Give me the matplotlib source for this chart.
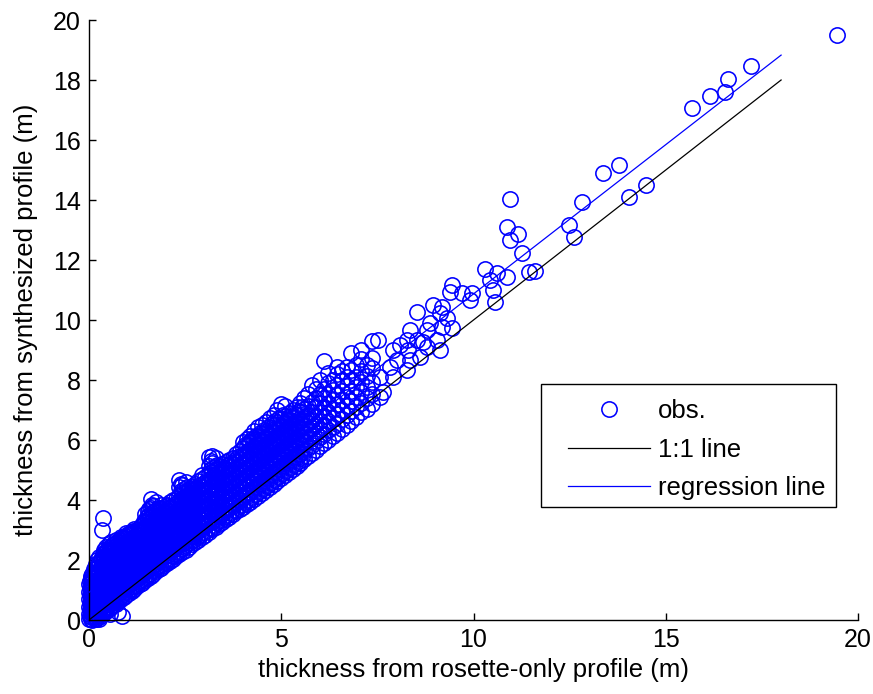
import matplotlib
matplotlib.use('Agg')
from matplotlib import pyplot as plt
from matplotlib.patches import Rectangle

plt.rcParams['font.family'] = ['Liberation Sans', 'DejaVu Sans']

# dense band of observations: (rosette-only thickness, [synthesized thicknesses])
band_cols = [
    (0.00, [0.02, 0.2, 0.45, 0.7, 0.95, 1.2]),
    (0.04, [0.1, 0.35, 0.6, 0.85, 1.1, 1.4]),
    (0.08, [0.0, 0.25, 0.5, 0.78, 1.02, 1.3, 1.55]),
    (0.12, [0.12, 0.38, 0.65, 0.9, 1.18, 1.45, 1.7]),
    (0.17, [0.05, 0.3, 0.55, 0.82, 1.05, 1.33, 1.6, 1.88]),
    (0.22, [0.15, 0.42, 0.7, 0.95, 1.22, 1.5, 1.75, 2.0]),
    (0.27, [0.1, 0.3, 0.58, 0.85, 1.1, 1.38, 1.65, 1.92, 2.1]),
    (0.33, [0.2, 0.47, 0.75, 1.0, 1.27, 1.55, 1.8, 2.05]),
    (0.39, [0.25, 0.5, 0.8, 1.05, 1.35, 1.6, 1.88, 2.15, 2.35]),
    (0.45, [0.3, 0.58, 0.85, 1.12, 1.4, 1.68, 1.95, 2.22, 2.45]),
    (0.51, [0.38, 0.65, 0.92, 1.2, 1.47, 1.75, 2.0, 2.3, 2.52]),
    (0.57, [0.45, 0.72, 1.0, 1.25, 1.55, 1.82, 2.08, 2.35, 2.6]),
    (0.63, [0.5, 0.78, 1.05, 1.32, 1.6, 1.88, 2.15, 2.4]),
    (0.69, [0.55, 0.82, 1.1, 1.38, 1.65, 1.92, 2.2, 2.48, 2.68]),
    (0.76, [0.62, 0.9, 1.18, 1.45, 1.72, 2.0, 2.28, 2.55]),
    (0.83, [0.7, 0.98, 1.25, 1.52, 1.8, 2.08, 2.35, 2.62, 2.78]),
    (0.90, [0.78, 1.05, 1.32, 1.6, 1.88, 2.15, 2.42, 2.7]),
    (0.97, [0.85, 1.12, 1.4, 1.68, 1.95, 2.22, 2.5, 2.75, 2.9]),
    (1.04, [0.9, 1.18, 1.45, 1.72, 2.0, 2.28, 2.55, 2.82]),
    (1.11, [0.98, 1.25, 1.52, 1.8, 2.08, 2.35, 2.62, 2.88]),
    (1.18, [1.05, 1.32, 1.6, 1.88, 2.15, 2.42, 2.7, 2.95, 3.05]),
    (1.25, [1.12, 1.4, 1.68, 1.95, 2.22, 2.5, 2.78, 3.0]),
    (1.32, [1.2, 1.48, 1.75, 2.02, 2.3, 2.58, 2.85, 3.1]),
    (1.39, [1.25, 1.55, 1.82, 2.1, 2.38, 2.65, 2.92, 3.18]),
    (1.46, [1.32, 1.6, 1.9, 2.18, 2.45, 2.72, 3.0, 3.28, 3.55]),
    (1.53, [1.4, 1.68, 1.95, 2.25, 2.52, 2.8, 3.08, 3.35, 3.65]),
    (1.60, [1.48, 1.75, 2.02, 2.3, 2.6, 2.88, 3.15, 3.45, 3.75, 4.02]),
    (1.67, [1.55, 1.82, 2.1, 2.38, 2.66, 2.95, 3.22, 3.5, 3.8]),
    (1.74, [1.62, 1.9, 2.18, 2.45, 2.72, 3.0, 3.3, 3.58, 3.95]),
    (1.81, [1.7, 1.98, 2.25, 2.52, 2.8, 3.08, 3.36, 3.62]),
    (1.88, [1.75, 2.05, 2.32, 2.6, 2.88, 3.15, 3.42, 3.7, 3.82]),
    (1.95, [1.82, 2.1, 2.4, 2.68, 2.95, 3.22, 3.5, 3.78]),
    (2.03, [1.9, 2.18, 2.46, 2.75, 3.02, 3.3, 3.58, 3.85]),
    (2.11, [1.98, 2.26, 2.55, 2.82, 3.1, 3.38, 3.65, 3.92]),
    (2.19, [2.05, 2.35, 2.62, 2.9, 3.18, 3.45, 3.72, 4.0]),
    (2.27, [2.12, 2.42, 2.7, 2.98, 3.25, 3.52, 3.8, 4.05]),
    (2.35, [2.2, 2.5, 2.78, 3.05, 3.32, 3.6, 3.88, 4.15, 4.42, 4.68]),
    (2.43, [2.28, 2.58, 2.85, 3.12, 3.4, 3.68, 3.95, 4.22, 4.5]),
    (2.51, [2.35, 2.65, 2.92, 3.2, 3.48, 3.75, 4.02, 4.3, 4.6]),
    (2.59, [2.45, 2.72, 3.0, 3.28, 3.55, 3.82, 4.1, 4.38]),
    (2.67, [2.52, 2.8, 3.08, 3.35, 3.62, 3.9, 4.18, 4.45]),
    (2.75, [2.6, 2.88, 3.15, 3.42, 3.7, 3.98, 4.25, 4.52]),
    (2.84, [2.68, 2.96, 3.24, 3.52, 3.8, 4.08, 4.35, 4.62]),
    (2.93, [2.76, 3.05, 3.32, 3.6, 3.88, 4.15, 4.42, 4.7, 4.82]),
    (3.02, [2.85, 3.12, 3.4, 3.68, 3.95, 4.22, 4.5, 4.78]),
    (3.11, [2.95, 3.22, 3.5, 3.78, 4.05, 4.32, 4.6, 4.88, 5.15, 5.42]),
    (3.20, [3.02, 3.3, 3.58, 3.85, 4.12, 4.4, 4.68, 4.95, 5.22, 5.48]),
    (3.29, [3.1, 3.38, 3.66, 3.94, 4.2, 4.48, 4.75, 5.02, 5.4]),
    (3.38, [3.2, 3.48, 3.75, 4.02, 4.3, 4.58, 4.85, 5.1]),
    (3.47, [3.28, 3.55, 3.82, 4.1, 4.38, 4.65, 4.92, 5.2]),
    (3.56, [3.36, 3.64, 3.92, 4.2, 4.46, 4.74, 5.0, 5.28]),
    (3.65, [3.45, 3.72, 4.0, 4.28, 4.55, 4.82, 5.1, 5.35]),
    (3.74, [3.52, 3.8, 4.08, 4.36, 4.64, 4.9, 5.18, 5.4]),
    (3.83, [3.62, 3.9, 4.18, 4.45, 4.72, 5.0, 5.28, 5.55]),
    (3.92, [3.7, 3.98, 4.26, 4.54, 4.82, 5.08, 5.35, 5.62]),
    (4.01, [3.78, 4.06, 4.34, 4.62, 4.9, 5.18, 5.45, 5.72, 5.95]),
    (4.10, [3.86, 4.15, 4.42, 4.7, 4.98, 5.25, 5.52, 5.8, 6.05]),
    (4.20, [3.95, 4.24, 4.52, 4.8, 5.08, 5.35, 5.62, 5.9, 6.15]),
    (4.30, [4.05, 4.34, 4.62, 4.9, 5.18, 5.45, 5.72, 6.0, 6.3]),
    (4.40, [4.15, 4.44, 4.72, 5.0, 5.28, 5.55, 5.82, 6.1, 6.45]),
    (4.50, [4.25, 4.54, 4.82, 5.1, 5.38, 5.65, 5.92, 6.2, 6.5]),
    (4.60, [4.35, 4.64, 4.92, 5.2, 5.48, 5.75, 6.02, 6.3, 6.6]),
    (4.70, [4.45, 4.74, 5.02, 5.3, 5.58, 5.85, 6.12, 6.4, 6.75]),
    (4.80, [4.55, 4.84, 5.12, 5.4, 5.68, 5.95, 6.22, 6.5, 6.85]),
    (4.90, [4.65, 4.94, 5.22, 5.5, 5.78, 6.05, 6.32, 6.6, 7.0]),
    (5.00, [4.75, 5.04, 5.32, 5.6, 5.88, 6.15, 6.42, 6.7, 7.2]),
    (5.10, [4.85, 5.14, 5.42, 5.7, 5.98, 6.25, 6.52, 6.8, 7.15]),
    (5.20, [4.95, 5.24, 5.52, 5.8, 6.08, 6.35, 6.62, 6.9]),
    (5.30, [5.05, 5.34, 5.62, 5.9, 6.18, 6.45, 6.72, 7.0]),
    (5.40, [5.15, 5.44, 5.72, 6.0, 6.28, 6.55, 6.82, 7.1]),
    (5.50, [5.25, 5.54, 5.82, 6.1, 6.38, 6.65, 6.92, 7.25]),
    (5.60, [5.38, 5.65, 5.92, 6.2, 6.48, 6.75, 7.05, 7.4]),
    (5.70, [5.48, 5.75, 6.02, 6.3, 6.58, 6.85, 7.15, 7.55]),
    (5.80, [5.58, 5.85, 6.12, 6.4, 6.68, 6.95, 7.28, 7.85]),
    (5.90, [5.68, 5.98, 6.25, 6.52, 6.8, 7.1, 7.4, 7.7]),
    (6.00, [5.8, 6.1, 6.38, 6.65, 6.95, 7.25, 7.55, 8.0]),
    (6.10, [5.9, 6.2, 6.5, 6.8, 7.1, 7.4, 7.7, 8.65]),
    (6.22, [6.0, 6.32, 6.62, 6.92, 7.22, 7.55, 7.9, 8.25]),
    (6.34, [6.12, 6.45, 6.75, 7.05, 7.35, 7.68, 8.0]),
    (6.46, [6.25, 6.55, 6.88, 7.2, 7.5, 7.85, 8.2, 8.45]),
    (6.58, [6.38, 6.7, 7.0, 7.32, 7.65, 8.0, 8.3]),
    (6.70, [6.5, 6.85, 7.15, 7.45, 7.8, 8.1, 8.45]),
    (6.82, [6.62, 6.98, 7.3, 7.62, 8.0, 8.35, 8.9]),
    (6.95, [6.78, 7.1, 7.45, 7.78, 8.1, 8.5]),
    (7.08, [6.92, 7.25, 7.6, 7.95, 8.3, 8.7, 9.0]),
    (7.22, [7.05, 7.4, 7.78, 8.15, 8.5]),
    (7.36, [7.2, 7.55, 7.95, 8.4, 8.75, 9.3]),
]

# second set of band observations lying between the columns above
band_cols_b = [
    (0.02, [0.12, 0.35, 0.58, 0.82, 1.08, 1.3]),
    (0.06, [0.05, 0.22, 0.48, 0.72, 0.98, 1.25, 1.48]),
    (0.10, [0.13, 0.38, 0.64, 0.9, 1.16, 1.42]),
    (0.15, [0.02, 0.25, 0.5, 0.76, 1.0, 1.27, 1.52, 1.75]),
    (0.20, [0.22, 0.48, 0.72, 0.98, 1.25, 1.5, 1.78]),
    (0.25, [0.02, 0.28, 0.55, 0.82, 1.08, 1.35, 1.62, 1.88]),
    (0.30, [0.22, 0.45, 0.72, 0.98, 1.25, 1.52, 1.8, 2.02]),
    (0.36, [0.33, 0.6, 0.88, 1.15, 1.42, 1.7, 1.95, 2.2]),
    (0.42, [0.38, 0.65, 0.92, 1.2, 1.48, 1.75, 2.02, 2.28]),
    (0.48, [0.45, 0.72, 1.0, 1.26, 1.55, 1.82, 2.08, 2.35]),
    (0.54, [0.52, 0.78, 1.06, 1.34, 1.6, 1.88, 2.15, 2.42]),
    (0.60, [0.6, 0.86, 1.12, 1.4, 1.68, 1.95, 2.22, 2.5]),
    (0.66, [0.64, 0.92, 1.2, 1.46, 1.74, 2.02, 2.3, 2.55]),
    (0.72, [0.7, 0.96, 1.25, 1.52, 1.8, 2.06, 2.35, 2.6]),
    (0.80, [0.78, 1.04, 1.32, 1.6, 1.86, 2.14, 2.42, 2.68]),
    (0.87, [0.84, 1.12, 1.38, 1.66, 1.94, 2.22, 2.5, 2.74]),
    (0.94, [0.92, 1.18, 1.46, 1.74, 2.02, 2.3, 2.56, 2.8]),
    (1.01, [0.98, 1.26, 1.54, 1.82, 2.1, 2.36, 2.64, 2.86]),
    (1.08, [1.05, 1.32, 1.6, 1.88, 2.15, 2.42, 2.7, 2.92]),
    (1.15, [1.12, 1.38, 1.66, 1.94, 2.22, 2.5, 2.78, 2.98]),
    (1.22, [1.18, 1.46, 1.74, 2.02, 2.3, 2.58, 2.85]),
    (1.29, [1.26, 1.54, 1.82, 2.1, 2.36, 2.64, 2.92, 3.05]),
    (1.36, [1.32, 1.6, 1.88, 2.16, 2.44, 2.72, 3.0]),
    (1.43, [1.4, 1.68, 1.96, 2.24, 2.52, 2.8, 3.08, 3.3]),
    (1.50, [1.48, 1.75, 2.02, 2.3, 2.58, 2.86, 3.14, 3.42]),
    (1.57, [1.55, 1.82, 2.1, 2.38, 2.66, 2.94, 3.22, 3.5, 3.7]),
    (1.64, [1.62, 1.9, 2.16, 2.44, 2.72, 3.0, 3.3, 3.58, 3.85]),
    (1.71, [1.68, 1.96, 2.24, 2.52, 2.8, 3.08, 3.36, 3.64]),
    (1.78, [1.76, 2.04, 2.3, 2.58, 2.86, 3.14, 3.42, 3.7]),
    (1.85, [1.84, 2.1, 2.38, 2.66, 2.94, 3.22, 3.5, 3.75]),
    (1.92, [1.9, 2.18, 2.46, 2.74, 3.02, 3.3, 3.58]),
    (1.99, [1.98, 2.26, 2.54, 2.8, 3.08, 3.36, 3.64, 3.8]),
    (2.07, [2.05, 2.32, 2.6, 2.88, 3.16, 3.44, 3.72]),
    (2.15, [2.12, 2.4, 2.68, 2.96, 3.24, 3.5, 3.78]),
    (2.23, [2.2, 2.48, 2.76, 3.04, 3.32, 3.58, 3.86]),
    (2.31, [2.28, 2.56, 2.84, 3.12, 3.38, 3.66, 3.94]),
    (2.39, [2.36, 2.64, 2.92, 3.2, 3.46, 3.74, 4.02, 4.3, 4.55]),
    (2.47, [2.44, 2.72, 3.0, 3.26, 3.54, 3.82, 4.1, 4.36]),
    (2.55, [2.52, 2.8, 3.06, 3.34, 3.62, 3.9, 4.16, 4.45]),
    (2.63, [2.6, 2.86, 3.14, 3.42, 3.7, 3.96, 4.24]),
    (2.71, [2.68, 2.94, 3.22, 3.5, 3.76, 4.04, 4.32]),
    (2.80, [2.76, 3.02, 3.3, 3.58, 3.85, 4.12, 4.4]),
    (2.89, [2.84, 3.1, 3.38, 3.66, 3.94, 4.22, 4.5]),
    (2.98, [2.92, 3.2, 3.46, 3.74, 4.02, 4.3, 4.58]),
    (3.07, [3.0, 3.28, 3.56, 3.82, 4.1, 4.38, 4.66]),
    (3.16, [3.08, 3.36, 3.64, 3.92, 4.18, 4.46, 4.74, 5.02, 5.3]),
    (3.25, [3.16, 3.44, 3.72, 4.0, 4.28, 4.55, 4.82, 5.1]),
    (3.34, [3.26, 3.52, 3.8, 4.08, 4.36, 4.62, 4.9, 5.18]),
    (3.43, [3.34, 3.62, 3.9, 4.16, 4.44, 4.72, 5.0]),
    (3.52, [3.42, 3.7, 3.98, 4.26, 4.52, 4.8, 5.08]),
    (3.61, [3.5, 3.78, 4.06, 4.34, 4.62, 4.88, 5.16]),
    (3.70, [3.6, 3.86, 4.14, 4.42, 4.7, 4.96, 5.24]),
    (3.79, [3.68, 3.96, 4.22, 4.5, 4.78, 5.06, 5.32]),
    (3.88, [3.76, 4.04, 4.32, 4.6, 4.86, 5.14, 5.42]),
    (3.97, [3.84, 4.12, 4.4, 4.68, 4.96, 5.22, 5.5]),
    (4.06, [3.92, 4.2, 4.48, 4.76, 5.04, 5.3, 5.58, 5.85]),
    (4.15, [4.0, 4.28, 4.56, 4.84, 5.12, 5.4, 5.66, 5.94]),
    (4.25, [4.1, 4.38, 4.66, 4.94, 5.22, 5.5, 5.76, 6.05]),
    (4.35, [4.2, 4.48, 4.76, 5.04, 5.32, 5.6, 5.86, 6.15]),
    (4.45, [4.3, 4.58, 4.86, 5.14, 5.42, 5.7, 5.96, 6.25]),
    (4.55, [4.4, 4.68, 4.96, 5.24, 5.52, 5.8, 6.06, 6.35]),
    (4.65, [4.5, 4.78, 5.06, 5.34, 5.62, 5.9, 6.16, 6.45]),
    (4.75, [4.6, 4.88, 5.16, 5.44, 5.72, 6.0, 6.26, 6.55]),
    (4.85, [4.7, 4.98, 5.26, 5.54, 5.82, 6.1, 6.36, 6.65]),
    (4.95, [4.8, 5.08, 5.36, 5.64, 5.92, 6.2, 6.46, 6.75]),
    (5.05, [4.9, 5.18, 5.46, 5.74, 6.02, 6.3, 6.56, 6.85]),
    (5.15, [5.0, 5.28, 5.56, 5.84, 6.12, 6.4, 6.66]),
    (5.25, [5.1, 5.38, 5.66, 5.94, 6.22, 6.5, 6.78]),
    (5.35, [5.2, 5.48, 5.76, 6.04, 6.32, 6.6, 6.88]),
    (5.45, [5.3, 5.58, 5.86, 6.14, 6.42, 6.7, 6.98]),
    (5.55, [5.42, 5.7, 5.98, 6.26, 6.54, 6.82, 7.1]),
]

# scattered observations outside the dense band
obs_scatter = [
    (0.34, 3.0), (0.36, 3.4), (0.36, 0.27), (0.55, 0.2), (0.75, 0.28), (0.86, 0.15),
    (7.51, 9.33), (7.56, 8.1), (7.56, 7.43), (7.65, 7.6), (7.82, 8.43), (7.9, 9.0),
    (7.9, 8.1), (8.0, 8.67), (8.08, 9.17), (8.26, 8.33), (8.26, 9.33), (8.29, 9.0),
    (8.34, 8.67), (8.34, 9.67), (8.52, 9.33), (8.52, 10.27), (8.6, 8.77), (8.68, 9.27),
    (8.78, 9.1), (8.78, 9.67), (8.86, 9.9), (8.94, 10.5), (9.04, 9.33), (9.12, 9.0),
    (9.12, 10.23), (9.19, 9.77), (9.19, 10.43), (9.3, 10.07), (9.38, 10.93), (9.45, 9.73),
    (9.45, 11.17), (9.69, 10.9), (9.9, 10.67), (9.97, 10.9), (10.29, 11.7), (10.42, 11.33),
    (10.5, 11.0), (10.55, 10.6), (10.62, 11.57), (10.86, 11.43), (10.86, 13.1), (10.94, 12.67),
    (10.96, 14.03), (11.17, 12.87), (11.27, 12.23), (11.45, 11.6), (11.6, 11.65),
    (12.49, 13.17), (12.62, 12.77), (12.83, 13.93), (13.36, 14.9), (13.79, 15.17),
    (14.05, 14.1), (14.49, 14.5), (15.69, 17.07), (16.16, 17.47), (16.55, 17.6),
    (16.62, 18.03), (17.22, 18.47), (19.45, 19.5),
]

line_x = [0, 18]
reg_slope = 0.995
reg_intercept = 0.92

cols = band_cols + band_cols_b
obs_x = [x for x, ys in cols for _ in ys] + [p[0] for p in obs_scatter]
obs_y = [y for _, ys in cols for y in ys] + [p[1] for p in obs_scatter]
reg_y = [reg_slope * x + reg_intercept for x in line_x]

W, H = 873, 694
fig = plt.figure(figsize=(W / 100, H / 100), dpi=100)
ax = fig.add_axes([89 / W, 74 / H, 769 / W, 600 / H])

ax.plot(obs_x, obs_y, 'o', mfc='none', mec='#0000ff', ms=11, mew=1.15,
        clip_on=False, label='obs.', zorder=2)
ax.plot(line_x, line_x, color='black', lw=0.9, label='1:1 line', zorder=3)
ax.plot(line_x, reg_y, color='#0000ff', lw=0.9, label='regression line', zorder=3)

ax.set_xlim(0, 20)
ax.set_ylim(0, 20)
ax.set_xticks([0, 5, 10, 15, 20])
ax.set_yticks(range(0, 21, 2))
ax.spines['top'].set_visible(False)
ax.spines['right'].set_visible(False)
ax.spines['left'].set_linewidth(1.0)
ax.spines['bottom'].set_linewidth(1.0)
ax.tick_params(direction='in', length=5, width=1, labelsize=18, pad=6)

ax.set_xlabel('thickness from rosette-only profile (m)', fontsize=18.5, labelpad=4)
ax.set_ylabel('thickness from synthesized profile (m)', fontsize=18.5, labelpad=11)

# legend box drawn separately so the padding can be wider than tall
ax.add_patch(Rectangle((541 / W, 1 - 507 / H), 295 / W, 123 / H,
                       transform=fig.transFigure, facecolor='white',
                       edgecolor='black', linewidth=1.0, clip_on=False, zorder=5))
leg = ax.legend(loc='upper left', bbox_to_anchor=(553 / W, 1 - 384 / H),
                bbox_transform=fig.transFigure, borderaxespad=0, fontsize=18.5,
                numpoints=1, handlelength=3.2, handletextpad=0.3, labelspacing=0.57,
                borderpad=0.58, frameon=False)
leg.set_zorder(6)

plt.savefig('out.png', dpi=100)
